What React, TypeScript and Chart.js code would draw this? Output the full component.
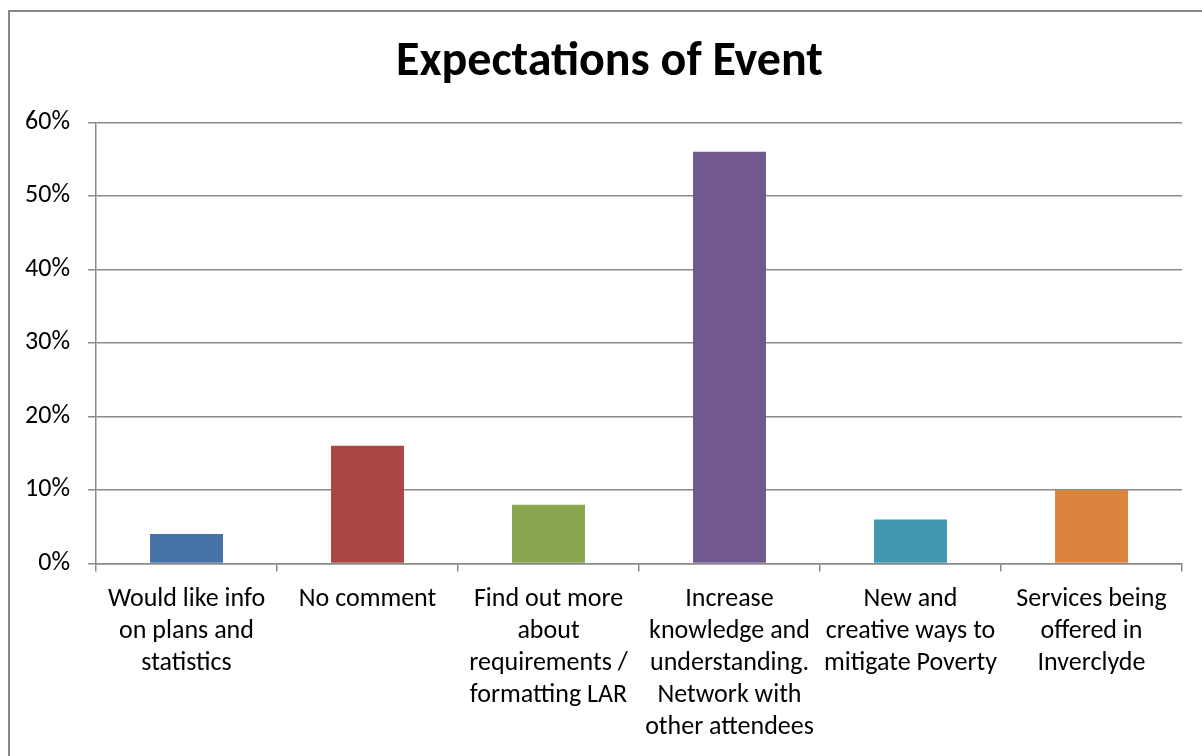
import { useEffect, useRef } from "react";
import { Chart, registerables } from "chart.js";

Chart.register(...registerables);

// Survey answers (category labels are split into the lines they are printed on)
const categories: string[][] = [
  ["Would like info", "on plans and", "statistics"],
  ["No comment"],
  ["Find out more", "about", "requirements /", "formatting LAR"],
  ["Increase", "knowledge and", "understanding.", "Network with", "other attendees"],
  ["New and", "creative ways to", "mitigate Poverty"],
  ["Services being", "offered in", "Inverclyde"],
];

// Share of respondents, in percent
const shares: number[] = [4, 16, 8, 56, 6, 10];

const barColors: string[] = ["#4572A7", "#AA4643", "#89A54E", "#71588F", "#4198AF", "#DB843D"];

const yMin = 0;
const yMax = 60;
const yStep = 10;

const chartTitle = "Expectations of Event";

const FONT = "Calibri, Carlito, Lato, sans-serif";
const AXIS_GRAY = "#8a8a8a";
const FRAME_LEFT = 37; // left edge of the frame the title is centred in

// Title drawn centred over the chart frame (not just the plot area)
const frameTitle = {
  id: "frameTitle",
  afterDraw(chart: any) {
    const { ctx, chartArea } = chart;
    ctx.save();
    ctx.font = `bold 48px ${FONT}`;
    ctx.fillStyle = "#000";
    ctx.textAlign = "center";
    ctx.textBaseline = "alphabetic";
    ctx.fillText(chartTitle, (FRAME_LEFT + chartArea.right) / 2, 75);
    ctx.restore();
  },
};

export default function App() {
  const canvasRef = useRef<HTMLCanvasElement | null>(null);

  useEffect(() => {
    if (!canvasRef.current) return;
    const chart = new Chart(canvasRef.current, {
      type: "bar",
      data: {
        labels: categories,
        datasets: [
          {
            data: shares,
            backgroundColor: barColors,
            borderWidth: 0,
            categoryPercentage: 1,
            barPercentage: 0.403,
          },
        ],
      },
      plugins: [frameTitle],
      options: {
        responsive: false,
        animation: false,
        layout: { padding: { left: 0, top: 122.3, bottom: 0, right: 20 } },
        plugins: {
          legend: { display: false },
          tooltip: { enabled: false },
          title: { display: false },
        },
        scales: {
          x: {
            afterFit: (scale: any) => {
              scale.height = 192.5;
            },
            grid: {
              display: true,
              drawOnChartArea: false,
              drawTicks: true,
              tickLength: 8,
              color: AXIS_GRAY,
              lineWidth: 1.5,
            },
            border: { display: true, color: AXIS_GRAY, width: 1.5 },
            ticks: {
              color: "#000",
              autoSkip: false,
              maxRotation: 0,
              minRotation: 0,
              padding: 12,
              font: { family: FONT, size: 26, lineHeight: "32px" as any },
            },
          },
          y: {
            min: yMin,
            max: yMax,
            afterFit: (scale: any) => {
              scale.width = 96;
            },
            grid: {
              color: AXIS_GRAY,
              lineWidth: 1.5,
              tickLength: 8,
              drawTicks: true,
            },
            border: { display: true, color: AXIS_GRAY, width: 1.5 },
            ticks: {
              stepSize: yStep,
              color: "#000",
              padding: 18,
              font: { family: FONT, size: 26 },
              callback: (v: any) => `${v}%`,
            },
          },
        },
      },
    });
    return () => chart.destroy();
  }, []);

  return (
    <div
      style={{
        position: "absolute",
        left: 0,
        top: 0,
        width: 1202,
        height: 756,
        overflow: "hidden",
        background: "#fff",
      }}
    >
      <div
        style={{
          position: "absolute",
          left: 8,
          top: 10,
          width: 1194,
          height: 746,
          boxSizing: "border-box",
          borderLeft: "2px solid #878787",
          borderTop: "2px solid #878787",
        }}
      />
      <canvas
        ref={canvasRef}
        width={1202}
        height={756}
        style={{ position: "absolute", left: 0, top: 0 }}
      />
    </div>
  );
}
